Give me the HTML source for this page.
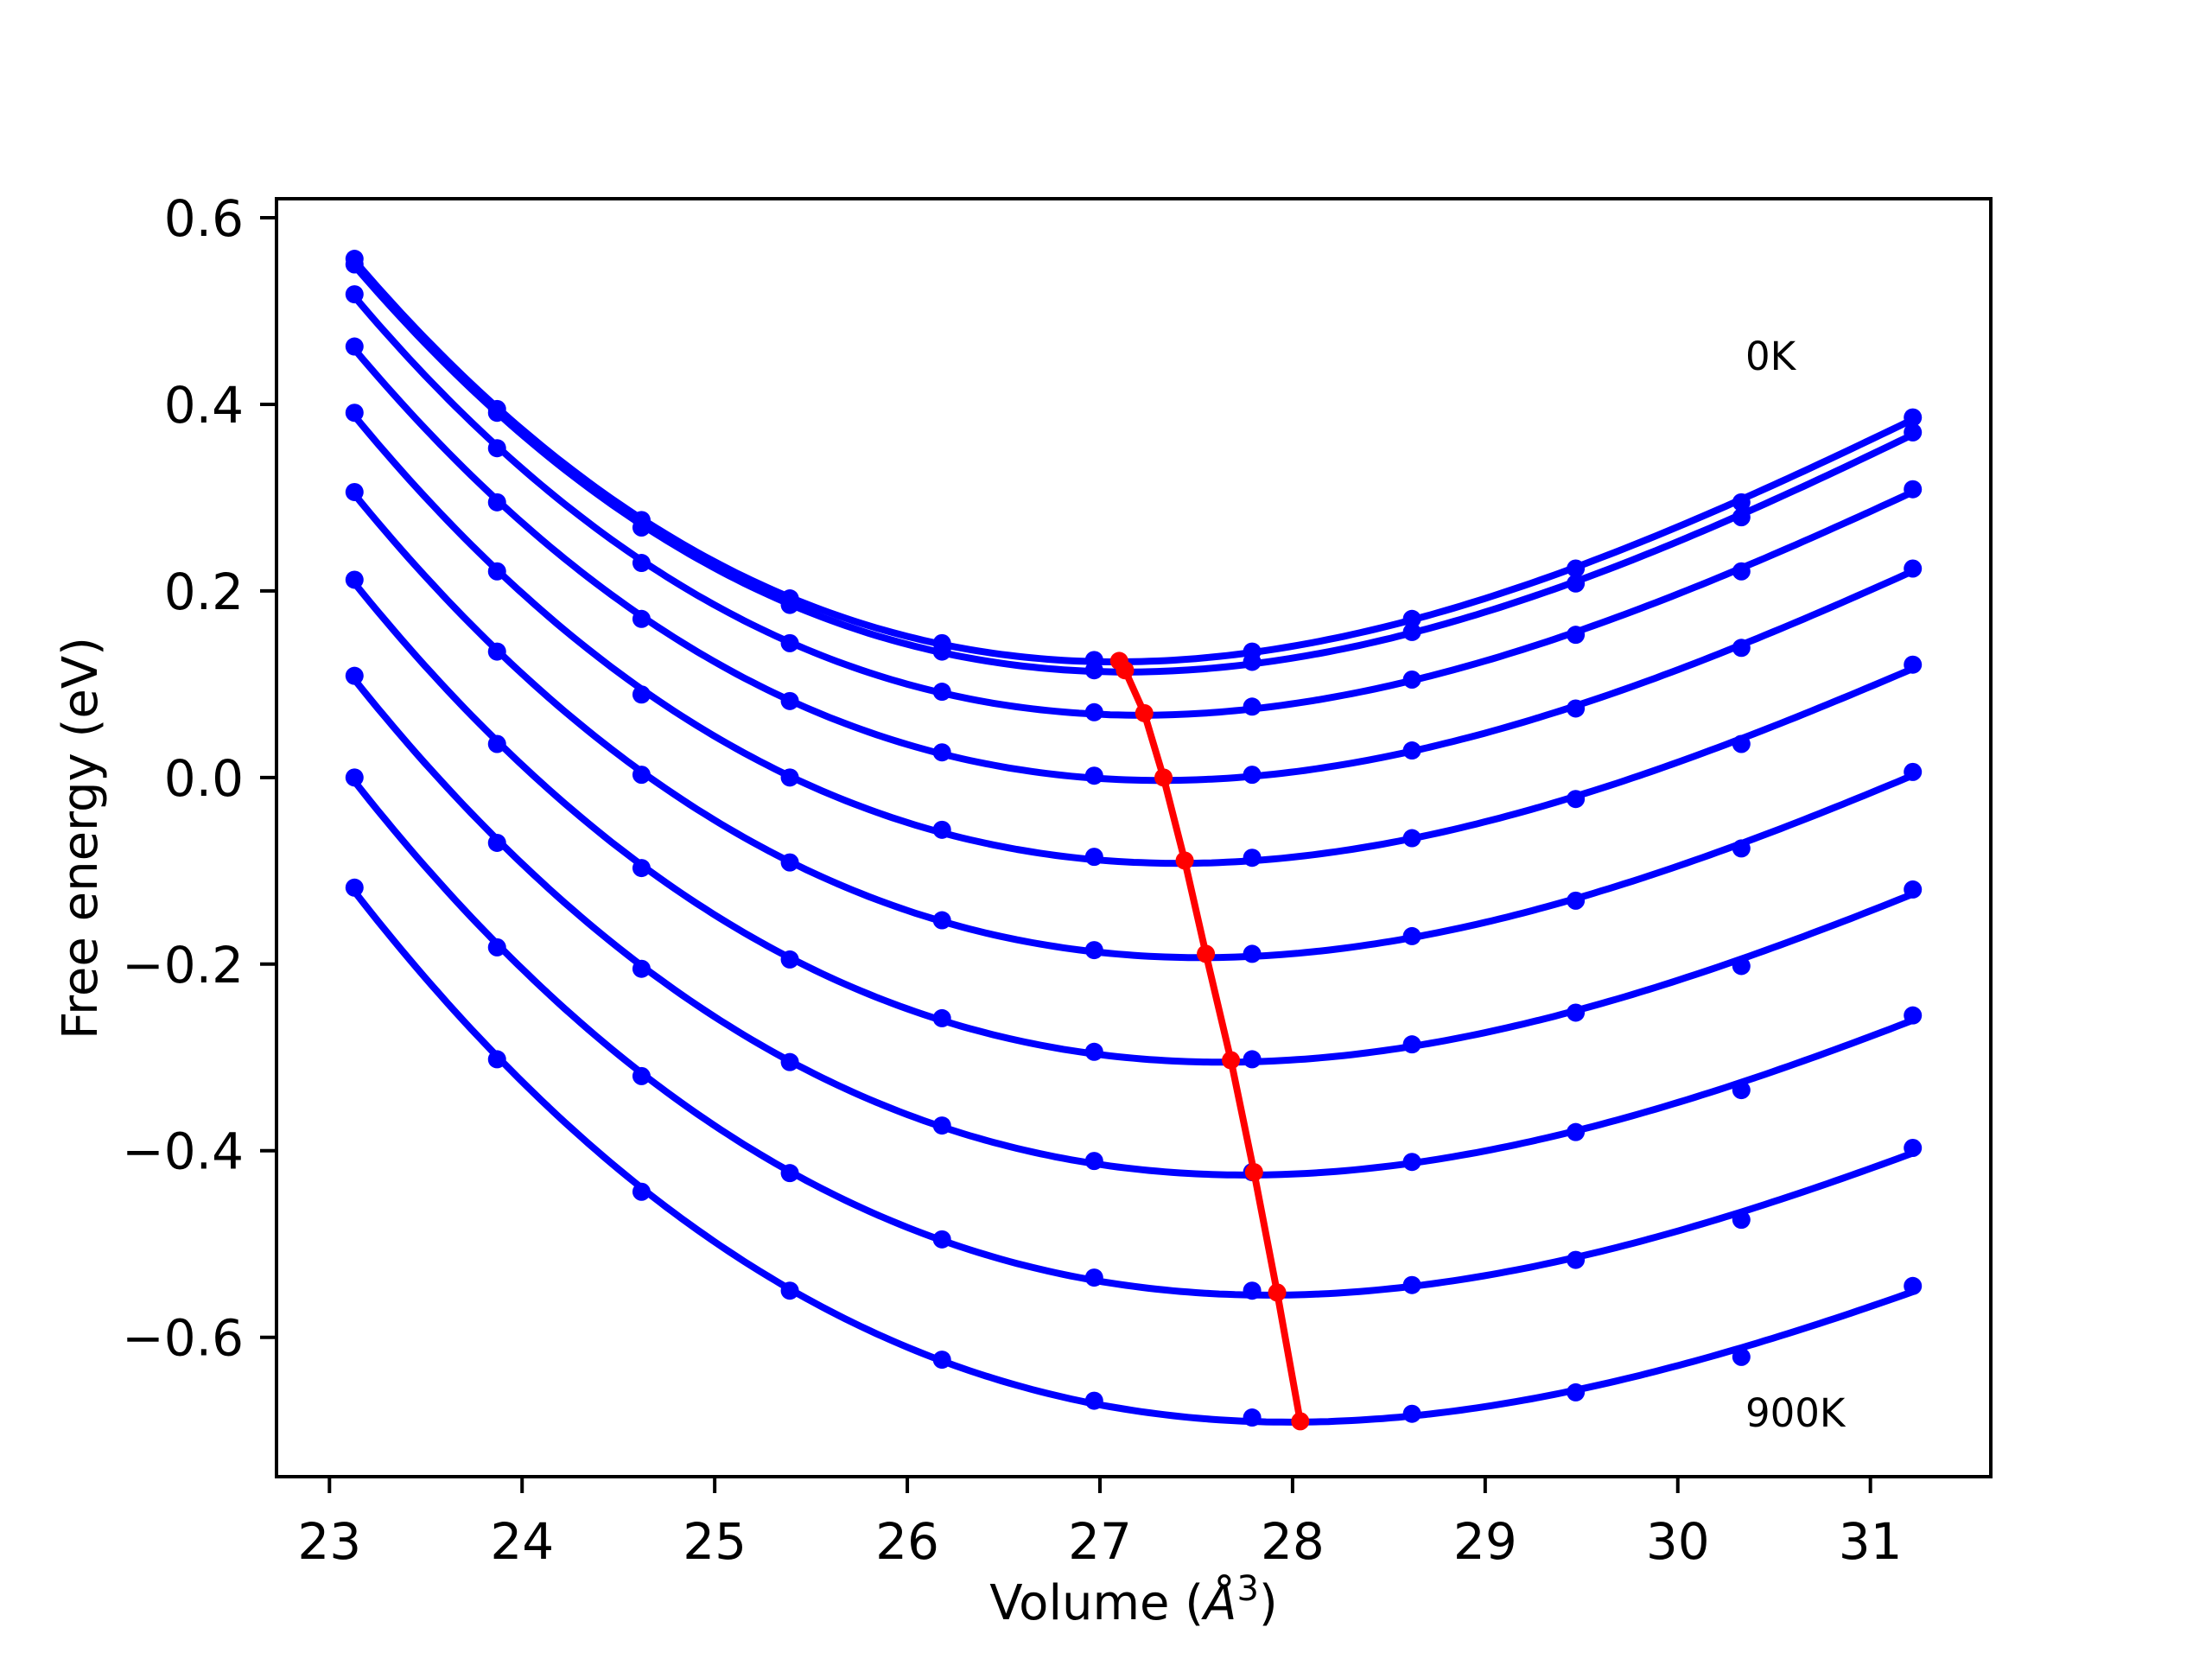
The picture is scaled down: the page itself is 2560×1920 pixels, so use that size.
<!DOCTYPE html>
<html><head><meta charset="utf-8"><style>
html,body{margin:0;padding:0;background:#fff;}
svg{display:block;font-family:"DejaVu Sans","Liberation Sans",sans-serif;}
</style></head><body>
<svg id="chart" width="2560" height="1920" viewBox="0 0 2560 1920">
<rect x="0" y="0" width="2560" height="1920" fill="#fff"/>
<g id="plot"></g>
<g id="axes"></g>
<text x="1312" y="1874" font-size="56" text-anchor="middle">Volume (<tspan font-style="italic">Å</tspan><tspan font-size="40" dy="-22">3</tspan><tspan dy="22">)</tspan></text>
<text x="0" y="0" font-size="56" text-anchor="middle" transform="translate(112,970) rotate(-90)">Free energy (eV)</text>
<text x="2020" y="428" font-size="45">0K</text>
<text x="2020" y="1651" font-size="45">900K</text>
</svg>
<script>
const volumes = [23.13, 23.87, 24.62, 25.39, 26.18, 26.97, 27.79, 28.62, 29.47, 30.33, 31.22];
const curve0 = [0.556, 0.395, 0.276, 0.192, 0.144, 0.126, 0.135, 0.170, 0.224, 0.295, 0.386];
const curve1 = [0.550, 0.391, 0.268, 0.185, 0.135, 0.115, 0.124, 0.156, 0.208, 0.279, 0.370];
const curve2 = [0.518, 0.353, 0.230, 0.144, 0.092, 0.070, 0.076, 0.105, 0.153, 0.221, 0.309];
const curve3 = [0.462, 0.295, 0.170, 0.082, 0.027, 0.002, 0.003, 0.029, 0.074, 0.139, 0.224];
const curve4 = [0.391, 0.221, 0.089, 0.000, -0.056, -0.085, -0.086, -0.065, -0.023, 0.036, 0.121];
const curve5 = [0.306, 0.135, 0.003, -0.091, -0.153, -0.185, -0.189, -0.170, -0.132, -0.076, 0.006];
const curve6 = [0.212, 0.036, -0.097, -0.195, -0.258, -0.294, -0.302, -0.286, -0.252, -0.202, -0.120];
const curve7 = [0.109, -0.070, -0.205, -0.305, -0.373, -0.411, -0.423, -0.412, -0.380, -0.335, -0.255];
const curve8 = [0.000, -0.182, -0.320, -0.424, -0.495, -0.536, -0.550, -0.544, -0.517, -0.474, -0.397];
const curve9 = [-0.118, -0.302, -0.444, -0.550, -0.624, -0.668, -0.686, -0.682, -0.659, -0.621, -0.545];
const curves = [curve0, curve1, curve2, curve3, curve4, curve5, curve6, curve7, curve8, curve9];
const minVolumes = [27.10, 27.13, 27.23, 27.33, 27.44, 27.55, 27.68, 27.80, 27.92, 28.04];
const minEnergies = [0.125, 0.115, 0.069, 0.000, -0.089, -0.189, -0.303, -0.423, -0.552, -0.690];
const xTicks = [23, 24, 25, 26, 27, 28, 29, 30, 31];
const yTicks = [0.6, 0.4, 0.2, 0.0, -0.2, -0.4, -0.6];
const yTickLabels = ["0.6", "0.4", "0.2", "0.0", "\u22120.2", "\u22120.4", "\u22120.6"];

const L = 320, R = 2304, T = 230, B = 1709;
const xMin = 22.725, xMax = 31.625, yMin = -0.7494, yMax = 0.6204;
function sx(v) { return L + (v - xMin) / (xMax - xMin) * (R - L); }
function sy(v) { return B - (v - yMin) / (yMax - yMin) * (B - T); }
const NS = "http://www.w3.org/2000/svg";
function mk(tag, attrs, parent) {
  const e = document.createElementNS(NS, tag);
  for (const k in attrs) e.setAttribute(k, attrs[k]);
  parent.appendChild(e);
  return e;
}
function fitCubic(xs, ys) {
  const c = xs.reduce((a, b) => a + b, 0) / xs.length;
  const n = 4, A = [], bv = [];
  for (let i = 0; i < n; i++) { A.push(new Array(n).fill(0)); bv.push(0); }
  xs.forEach((x, k) => {
    const t = x - c;
    for (let i = 0; i < n; i++) {
      bv[i] += Math.pow(t, i) * ys[k];
      for (let j = 0; j < n; j++) A[i][j] += Math.pow(t, i + j);
    }
  });
  for (let i = 0; i < n; i++) {
    let p = i;
    for (let r = i + 1; r < n; r++) if (Math.abs(A[r][i]) > Math.abs(A[p][i])) p = r;
    [A[i], A[p]] = [A[p], A[i]]; [bv[i], bv[p]] = [bv[p], bv[i]];
    for (let r = i + 1; r < n; r++) {
      const f = A[r][i] / A[i][i];
      for (let j = i; j < n; j++) A[r][j] -= f * A[i][j];
      bv[r] -= f * bv[i];
    }
  }
  const co = new Array(n).fill(0);
  for (let i = n - 1; i >= 0; i--) {
    let s = bv[i];
    for (let j = i + 1; j < n; j++) s -= A[i][j] * co[j];
    co[i] = s / A[i][i];
  }
  return x => { const t = x - c; return co[0] + co[1] * t + co[2] * t * t + co[3] * t * t * t; };
}
const plot = document.getElementById('plot');
const axes = document.getElementById('axes');
curves.forEach((cv, ci) => {
  const f = fitCubic(volumes, cv);
  const x0 = volumes[0], x1 = volumes[volumes.length - 1];
  let d = "";
  for (let i = 0; i <= 200; i++) {
    const x = x0 + (x1 - x0) * i / 200;
    d += (i ? "L" : "M") + sx(x).toFixed(1) + "," + sy(f(x)).toFixed(1);
  }
  const p = mk('path', { d: d, fill: 'none', stroke: '#0000ff', 'stroke-width': 8, 'stroke-linejoin': 'round' }, plot);
  
  
  cv.forEach((v, k) => {
    const c = mk('circle', { cx: sx(volumes[k]), cy: sy(v), r: 10.5, fill: '#0000ff' }, plot);
    
    
  });
});
let rd = "";
minVolumes.forEach((v, i) => { rd += (i ? "L" : "M") + sx(v).toFixed(1) + "," + sy(minEnergies[i]).toFixed(1); });
const rl = mk('path', { d: rd, fill: 'none', stroke: '#ff0000', 'stroke-width': 8, 'stroke-linejoin': 'round' }, plot);


minVolumes.forEach((v, i) => {
  const c = mk('circle', { cx: sx(v), cy: sy(minEnergies[i]), r: 10.5, fill: '#ff0000' }, plot);
  
  
});
const frame = mk('rect', { x: L, y: T, width: R - L, height: B - T, fill: 'none', stroke: '#000', 'stroke-width': 4 }, axes);


xTicks.forEach(t => {
  const x = sx(t);
  const tk = mk('line', { x1: x, y1: B, x2: x, y2: B + 19, stroke: '#000', 'stroke-width': 4 }, axes);
  
  
  const tx = mk('text', { x: x, y: 1804, 'font-size': 58, 'text-anchor': 'middle' }, axes);
  tx.textContent = String(t);
  
  
});
yTicks.forEach((t, i) => {
  const y = sy(t);
  const tk = mk('line', { x1: L - 19, y1: y, x2: L, y2: y, stroke: '#000', 'stroke-width': 4 }, axes);
  
  
  const tx = mk('text', { x: 282, y: y + 21, 'font-size': 58, 'text-anchor': 'end' }, axes);
  tx.textContent = yTickLabels[i];
  
  
});
</script>
</body></html>
